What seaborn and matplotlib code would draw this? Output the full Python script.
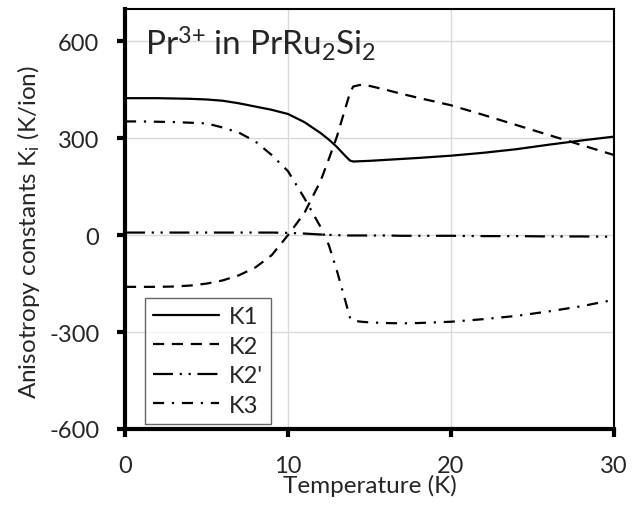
import matplotlib
matplotlib.use("Agg")
import matplotlib.pyplot as plt
import seaborn as sns
import pandas as pd

T = [0, 1, 2, 3, 4, 5, 6, 7, 8, 9, 10, 11, 12, 12.5, 13, 13.5, 13.8, 14, 14.5,
     15, 16, 17, 18, 20, 22, 24, 26, 28, 30]
K1 = [424, 424, 424, 423, 422, 420, 416, 408, 398, 388, 375, 350, 316, 296, 273,
      246, 231, 228, 229, 230, 233, 236, 239, 246, 255, 266, 280, 293, 305]
K2 = [-160, -160, -160, -159, -156, -150, -140, -124, -100, -62, 0, 68, 168, 235,
      305, 390, 440, 460, 466, 462, 450, 437, 425, 402, 372, 341, 310, 279, 248]
K2p = [8, 8, 8, 8, 8, 8, 8, 8, 8, 8, 7, 5, 2, 1, 0, -1, -1, -1, -1,
       -1, -1, -2, -2, -2, -3, -3, -4, -4, -5]
K3 = [352, 352, 351, 350, 348, 346, 333, 317, 290, 248, 198, 115, 25, -30, -110,
      -200, -255, -265, -268, -270, -272, -273, -272, -268, -260, -250, -236, -220, -200]
series_names = ["K1", "K2", "K2'", "K3"]
x_ticks = [0, 10, 20, 30]
y_ticks = [-600, -300, 0, 300, 600]

sns.set_style("white")
FONT = "Lato"
plt.rcParams["font.family"] = [FONT, "DejaVu Sans"]
plt.rcParams["mathtext.fontset"] = "custom"
plt.rcParams["mathtext.rm"] = FONT
plt.rcParams["mathtext.it"] = FONT + ":italic"
plt.rcParams["mathtext.bf"] = FONT + ":bold"

fig = plt.figure(figsize=(6.39, 5.10), dpi=100)
ax = fig.add_axes([125 / 639, 1 - 430 / 510, (614 - 125) / 639, (430 - 10) / 510])

styles = {
    "K1": "-",
    "K2": (0, (5, 3.5)),
    "K2'": (0, (9, 3, 1, 3, 1, 3)),
    "K3": (0, (5, 3.5, 1, 3.5)),
}
data = {"K1": K1, "K2": K2, "K2'": K2p, "K3": K3}
for name in series_names:
    df = pd.DataFrame({"T": T, "K": data[name]})
    sns.lineplot(data=df, x="T", y="K", ax=ax, color="black", lw=1.6,
                 linestyle=styles[name], label=name, sort=False)

ax.set_xlim(0, 30)
ax.set_ylim(-600, 700)
ax.set_xticks(x_ticks)
ax.set_yticks(y_ticks)
ax.set_xticklabels([str(v) for v in x_ticks])
ax.set_yticklabels([str(v) for v in y_ticks])
ax.grid(True, color="#d9d9d9", lw=1.0)
ax.set_axisbelow(True)

for s in ["left", "bottom"]:
    ax.spines[s].set_linewidth(3)
    ax.spines[s].set_color("black")
for s in ["top", "right"]:
    ax.spines[s].set_linewidth(1.5)
    ax.spines[s].set_color("black")

ax.tick_params(axis="both", which="major", direction="out", length=5.5, width=3,
               color="black", labelsize=17, left=True, bottom=True)
ax.tick_params(axis="x", pad=13)
ax.tick_params(axis="y", pad=13)

ax.set_xlabel("Temperature (K)", fontsize=17.5, labelpad=-1)
ax.set_ylabel(r"Anisotropy constants K$_\mathrm{i}$ (K/ion)", fontsize=17.5)
ax.yaxis.set_label_coords(-0.17, 0.471)

ax.text(0.04, 0.965, r"Pr$^{\mathrm{3{+}}}$ in PrRu$_\mathrm{2}$Si$_\mathrm{2}$",
        transform=ax.transAxes, fontsize=24, ha="left", va="top")

leg = ax.legend(loc="lower left", bbox_to_anchor=(0.041, 0.012), fontsize=17,
                frameon=True, fancybox=False, edgecolor="#404040",
                handlelength=2.8, handletextpad=0.4, labelspacing=0.36,
                borderpad=0.35, borderaxespad=0)
leg.get_frame().set_linewidth(1.0)

fig.savefig("out.png", dpi=100)
